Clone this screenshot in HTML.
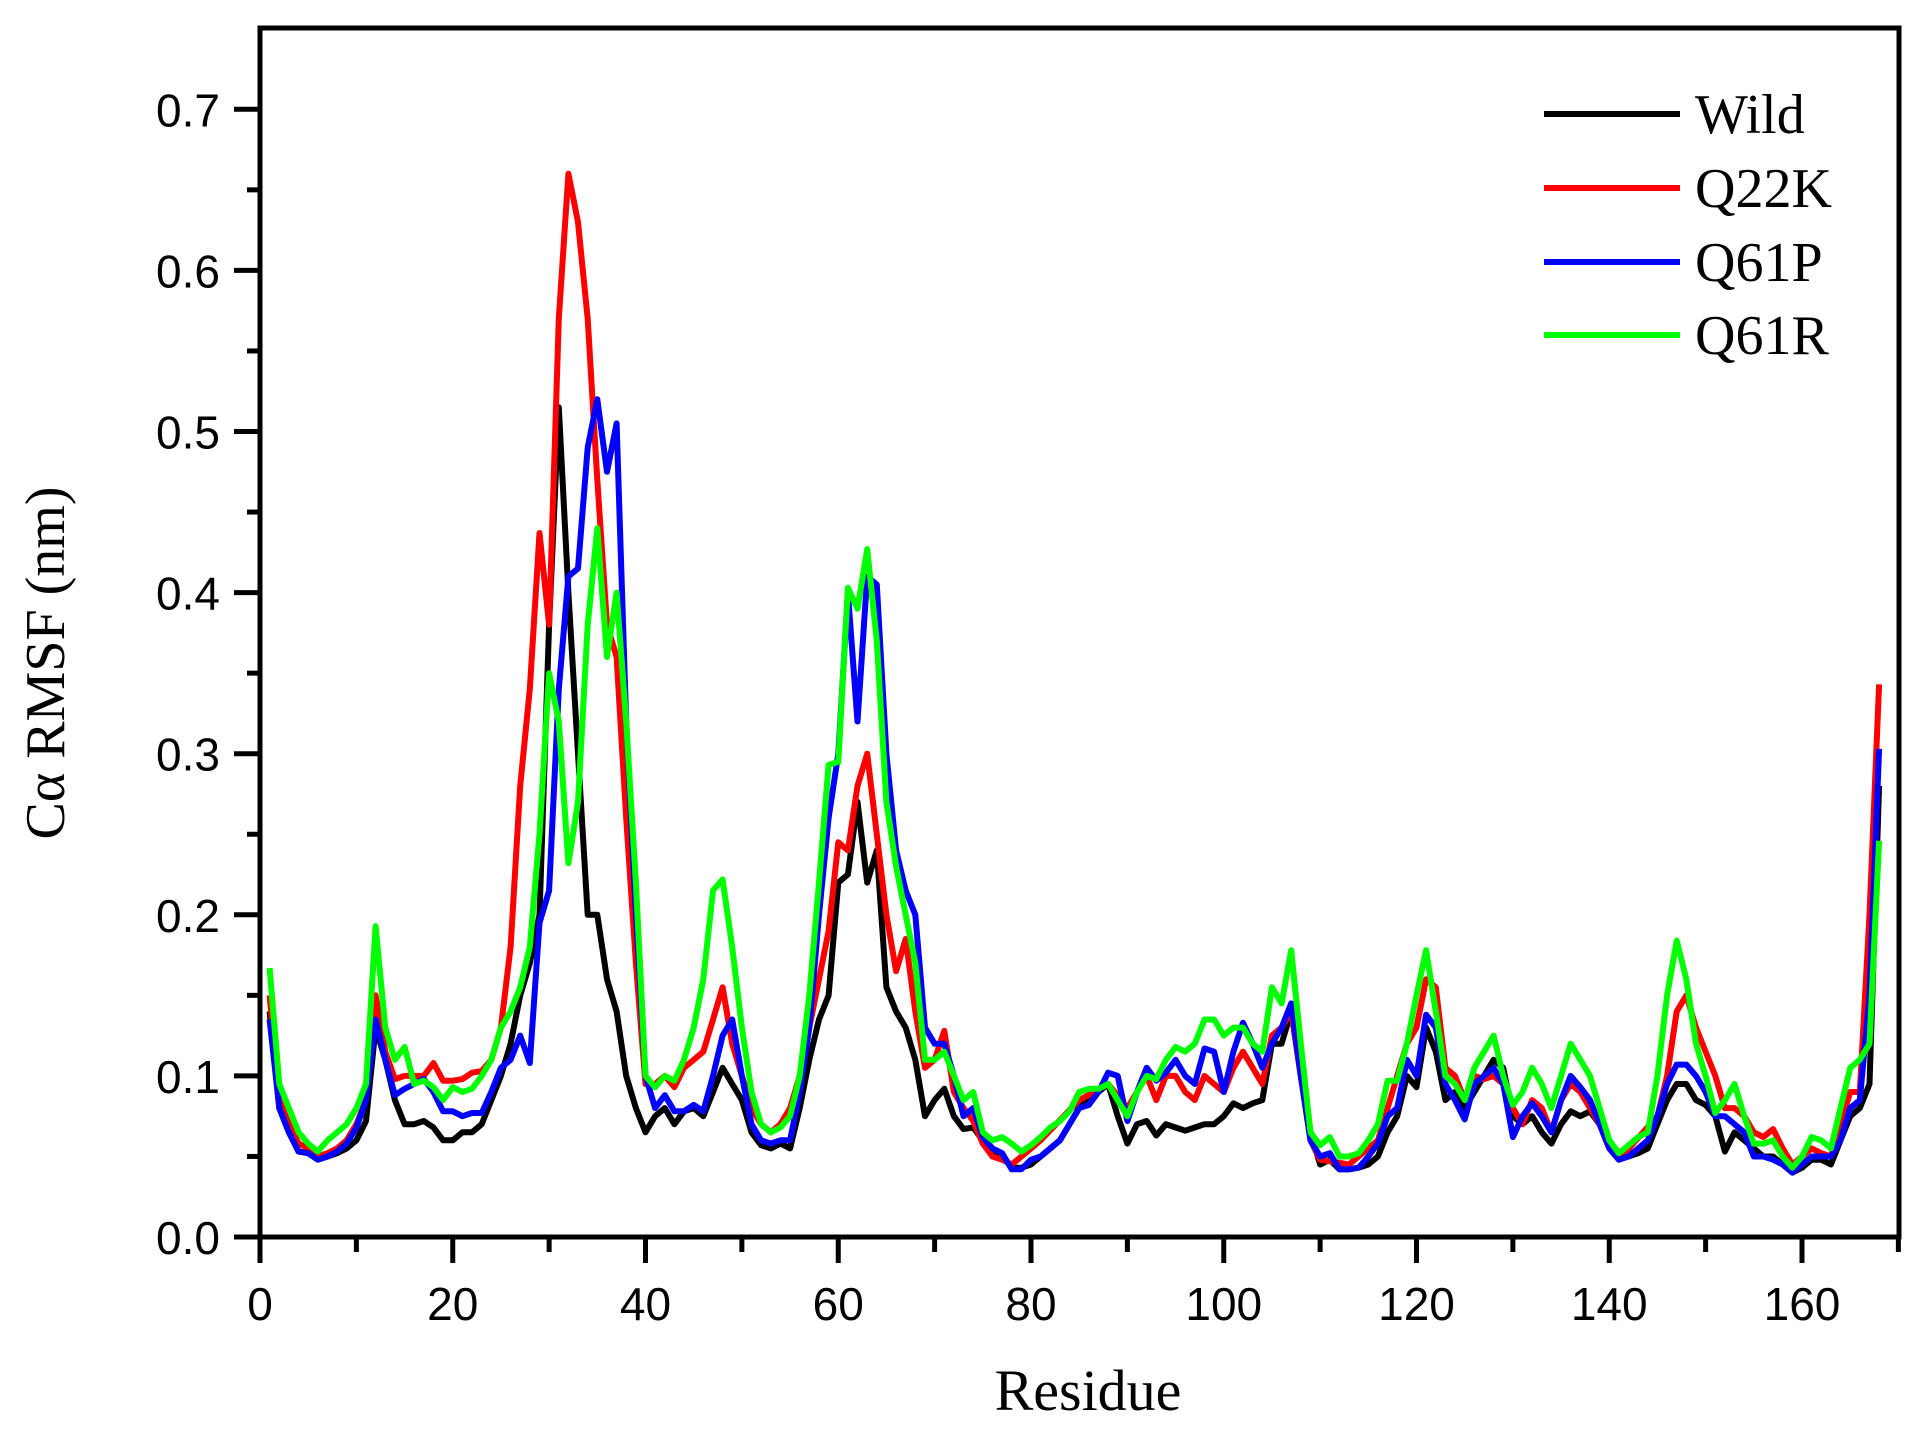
<!DOCTYPE html>
<html><head><meta charset="utf-8"><style>
html,body{margin:0;padding:0;background:#fff;}
svg{display:block;}
</style></head><body>
<svg id="s" width="1928" height="1435" viewBox="0 0 1928 1435" xmlns="http://www.w3.org/2000/svg">
<rect x="0" y="0" width="1928" height="1435" fill="#fff"/>
<g id="series" fill="none" stroke-width="6" stroke-linejoin="round"></g>
<rect x="260" y="28" width="1639" height="1209" fill="none" stroke="#000" stroke-width="5"/>
<g id="ticks" stroke="#000" stroke-width="5"></g>
<g id="labels" font-family="Liberation Sans, sans-serif" font-size="46" fill="#000"></g>
<text x="1088" y="1410" font-family="Liberation Serif, serif" font-size="58" text-anchor="middle">Residue</text>
<text transform="translate(64,663) rotate(-90)" font-family="Liberation Serif, serif" font-size="56" text-anchor="middle">Cα RMSF (nm)</text>
<g font-family="Liberation Serif, serif" font-size="56" stroke-width="6">
<line x1="1544" y1="114" x2="1680" y2="114" stroke="#000"/><text x="1695" y="133">Wild</text>
<line x1="1544" y1="188" x2="1680" y2="188" stroke="#f00"/><text x="1695" y="207">Q22K</text>
<line x1="1544" y1="262" x2="1680" y2="262" stroke="#00f"/><text x="1695" y="281">Q61P</text>
<line x1="1544" y1="335" x2="1680" y2="335" stroke="#0f0"/><text x="1695" y="354">Q61R</text>
</g>
</svg>
<script>
var X=function(r){return 260+r*9.6375;}, Y=function(v){return 1237-v*1611;};
var NS="http://www.w3.org/2000/svg";
var t=document.getElementById('ticks'), L=document.getElementById('labels');
function ln(a,b,c,d){var e=document.createElementNS(NS,'line');e.setAttribute('x1',a);e.setAttribute('y1',b);e.setAttribute('x2',c);e.setAttribute('y2',d);t.appendChild(e);}
function tx(x,y,s,anc){var e=document.createElementNS(NS,'text');e.setAttribute('x',x);e.setAttribute('y',y);e.setAttribute('text-anchor',anc);e.textContent=s;L.appendChild(e);}
for(var i=0;i<=17;i++){var x=X(i*10);if(i%2==0){ln(x,1237,x,1263);tx(x,1320,String(i*10),'middle');}else ln(x,1237,x,1252);}
for(var i=0;i<=14;i++){var y=Y(i*0.05);if(i%2==0){ln(234,y,260,y);tx(220,y+17,(i*0.05).toFixed(1),'end');}else ln(247,y,260,y);}
var D={
k:{1:.14,2:.08,3:.065,4:.053,5:.052,6:.048,7:.05,8:.052,9:.055,10:.06,11:.072,12:.13,13:.11,14:.085,15:.07,16:.07,17:.072,18:.068,19:.06,20:.06,21:.065,22:.065,23:.07,24:.085,25:.1,26:.12,27:.15,28:.17,29:.2,30:.38,31:.515,32:.4,33:.3,34:.2,35:.2,36:.16,37:.14,38:.1,39:.08,40:.065,41:.075,42:.08,43:.07,44:.078,45:.08,46:.075,47:.09,48:.105,49:.095,50:.085,51:.065,52:.057,53:.055,54:.058,55:.055,56:.08,57:.11,58:.135,59:.15,60:.22,61:.225,62:.27,63:.22,64:.24,65:.155,66:.14,67:.13,68:.11,69:.075,70:.085,71:.092,72:.075,73:.067,74:.068,75:.06,76:.055,77:.05,78:.043,79:.043,80:.045,81:.05,82:.055,83:.06,84:.07,85:.08,86:.085,87:.09,88:.095,89:.075,90:.058,91:.07,92:.072,93:.063,94:.07,95:.068,96:.066,97:.068,98:.07,99:.07,100:.075,101:.083,102:.08,103:.083,104:.085,105:.12,106:.12,107:.14,108:.1,109:.065,110:.045,111:.048,112:.042,113:.042,114:.043,115:.045,116:.05,117:.065,118:.075,119:.1,120:.093,121:.13,122:.115,123:.085,124:.09,125:.08,126:.09,127:.1,128:.11,129:.105,130:.075,131:.07,132:.075,133:.065,134:.058,135:.07,136:.078,137:.075,138:.078,139:.07,140:.06,141:.05,142:.05,143:.052,144:.055,145:.07,146:.085,147:.095,148:.095,149:.085,150:.082,151:.075,152:.053,153:.065,154:.06,155:.055,156:.05,157:.05,158:.045,159:.04,160:.043,161:.048,162:.048,163:.045,164:.06,165:.075,166:.08,167:.095,168:.28},
r:{1:.15,2:.085,3:.07,4:.058,5:.055,6:.05,7:.052,8:.055,9:.06,10:.07,11:.085,12:.15,13:.115,14:.098,15:.1,16:.1,17:.1,18:.108,19:.097,20:.097,21:.098,22:.102,23:.103,24:.11,25:.13,26:.18,27:.28,28:.34,29:.437,30:.38,31:.57,32:.66,33:.63,34:.57,35:.47,36:.38,37:.36,38:.26,39:.17,40:.095,41:.095,42:.1,43:.093,44:.105,45:.11,46:.115,47:.135,48:.155,49:.12,50:.1,51:.08,52:.07,53:.065,54:.07,55:.08,56:.1,57:.13,58:.16,59:.19,60:.245,61:.24,62:.28,63:.3,64:.25,65:.2,66:.165,67:.185,68:.14,69:.105,70:.11,71:.128,72:.09,73:.08,74:.072,75:.058,76:.05,77:.048,78:.045,79:.05,80:.055,81:.06,85:.085,88:.095,90:.08,92:.1,93:.085,94:.1,95:.1,96:.09,97:.085,98:.1,99:.095,100:.09,101:.105,102:.115,103:.105,104:.095,105:.125,106:.13,107:.14,108:.1,109:.06,110:.048,113:.045,116:.06,119:.12,120:.13,121:.16,122:.155,123:.105,124:.1,125:.085,126:.1,127:.098,128:.1,129:.095,130:.08,131:.07,132:.085,133:.08,134:.065,135:.085,136:.095,137:.09,138:.08,139:.07,140:.055,141:.048,145:.075,146:.1,147:.14,148:.15,149:.13,150:.115,151:.1,152:.08,153:.08,154:.075,155:.065,156:.062,157:.067,158:.055,159:.045,160:.05,161:.055,162:.052,163:.05,164:.07,165:.09,166:.09,167:.2,168:.343},
b:{1:.135,2:.08,3:.065,4:.053,5:.052,6:.048,7:.05,8:.053,9:.058,10:.068,11:.085,12:.135,13:.11,14:.088,15:.092,16:.095,17:.098,18:.09,19:.078,20:.078,21:.075,22:.077,23:.077,24:.09,25:.105,26:.11,27:.125,28:.108,29:.195,30:.215,31:.34,32:.41,33:.415,34:.49,35:.52,36:.475,37:.505,38:.32,39:.2,40:.1,41:.08,42:.088,43:.078,44:.078,45:.082,46:.078,47:.1,48:.125,49:.135,50:.1,51:.07,52:.06,53:.058,54:.06,55:.06,56:.09,57:.13,58:.2,59:.26,60:.3,61:.4,62:.32,63:.41,64:.405,65:.3,66:.24,67:.215,68:.2,69:.13,70:.12,71:.12,72:.1,73:.075,74:.08,75:.062,76:.055,77:.052,78:.042,79:.042,80:.048,81:.05,82:.055,83:.06,84:.07,85:.08,86:.082,87:.09,88:.102,89:.1,90:.072,91:.09,92:.105,93:.097,94:.102,95:.11,96:.1,97:.095,98:.117,99:.115,100:.09,101:.115,102:.133,103:.12,104:.105,105:.12,106:.13,107:.145,108:.1,109:.06,110:.05,111:.052,112:.042,113:.042,114:.043,115:.05,116:.058,117:.075,118:.08,119:.11,120:.1,121:.138,122:.13,123:.095,124:.085,125:.073,126:.095,127:.1,128:.105,129:.095,130:.062,131:.075,132:.083,133:.075,134:.065,135:.085,136:.1,137:.093,138:.085,139:.07,140:.055,141:.048,142:.05,143:.055,144:.06,145:.075,146:.095,147:.107,148:.107,149:.1,150:.09,151:.075,152:.075,153:.07,154:.065,155:.05,156:.05,157:.048,158:.045,159:.04,160:.045,161:.05,162:.05,163:.05,164:.06,165:.08,166:.085,167:.15,168:.303},
g:{1:.167,2:.095,3:.08,4:.065,5:.058,6:.053,7:.06,8:.065,9:.07,10:.08,11:.095,12:.193,13:.13,14:.11,15:.118,16:.095,17:.097,18:.093,19:.085,20:.093,21:.09,22:.092,23:.1,24:.11,25:.13,26:.14,27:.155,28:.18,29:.25,30:.35,31:.32,32:.232,33:.27,34:.38,35:.44,36:.36,37:.4,38:.32,39:.22,40:.1,41:.093,42:.1,43:.097,44:.11,45:.13,46:.16,47:.215,48:.222,49:.18,50:.13,51:.09,52:.07,53:.065,54:.068,55:.075,56:.1,57:.15,58:.22,59:.293,60:.295,61:.403,62:.39,63:.427,64:.37,65:.27,66:.23,67:.2,68:.17,69:.11,70:.11,71:.115,72:.1,73:.085,74:.09,75:.065,76:.06,77:.062,78:.058,79:.053,80:.057,81:.062,82:.068,83:.072,84:.078,85:.09,86:.092,87:.092,88:.095,89:.085,90:.075,91:.09,92:.1,93:.098,94:.11,95:.118,96:.115,97:.12,98:.135,99:.135,100:.125,101:.13,102:.13,103:.12,104:.115,105:.155,106:.145,107:.178,108:.12,109:.065,110:.057,111:.062,112:.05,113:.05,114:.052,115:.06,116:.07,117:.097,118:.097,119:.12,120:.15,121:.178,122:.14,123:.1,124:.095,125:.085,126:.105,127:.115,128:.125,129:.1,130:.082,131:.09,132:.105,133:.095,134:.08,135:.1,136:.12,137:.11,138:.1,139:.08,140:.06,141:.052,142:.057,143:.062,144:.065,145:.1,146:.15,147:.184,148:.16,149:.12,150:.1,151:.077,152:.085,153:.095,154:.075,155:.058,156:.058,157:.06,158:.05,159:.043,160:.05,161:.062,162:.06,163:.055,164:.08,165:.105,166:.11,167:.12,168:.246}};
var col={k:'#000',r:'#f00',b:'#00f',g:'#0f0'};
var S=document.getElementById('series');
['k','r','b','g'].forEach(function(k){
 var d=D[k],keys=Object.keys(d).map(Number).sort(function(a,b){return a-b;}),pts=[];
 keys.forEach(function(r){pts.push(X(r).toFixed(1)+','+Y(d[r]).toFixed(1));});
 var p=document.createElementNS(NS,'polyline');p.setAttribute('points',pts.join(' '));p.setAttribute('stroke',col[k]);S.appendChild(p);
});
</script>
</body></html>
